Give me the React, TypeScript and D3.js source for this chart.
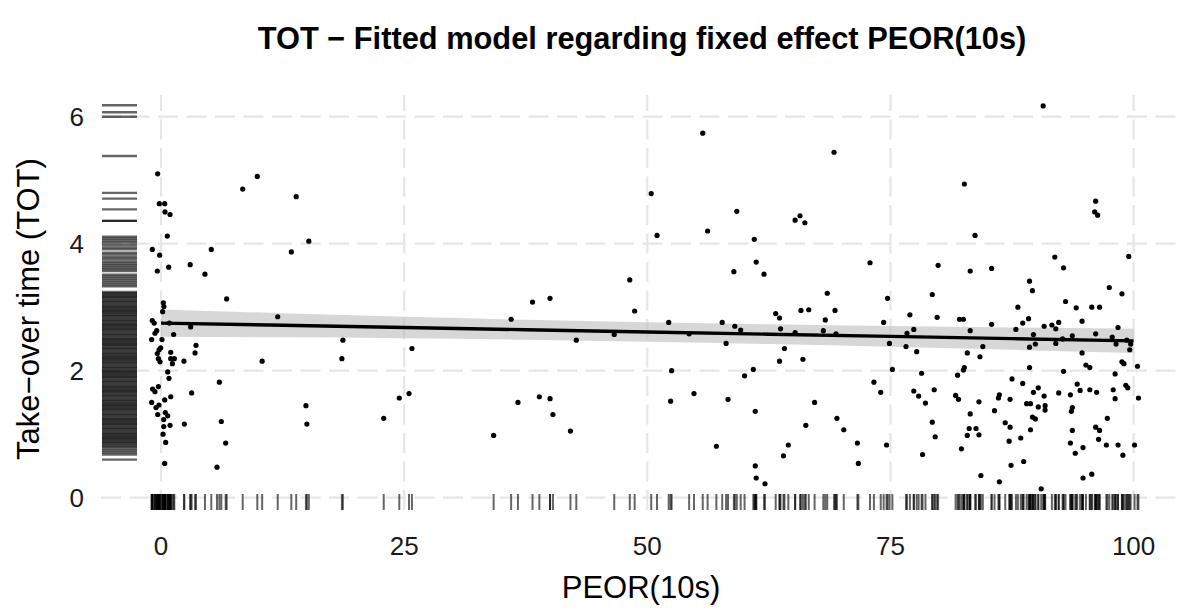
import React from "react";
import * as d3 from "d3";

// PEOR(10s) (jittered) and TOT values
const peor = [
  -0.34, 9.9, 8.4, 13.9, -0.17, 0.38, 0.41, 0.93, 0.65, -0.89, 5.17, 13.4, -0.14, -0.38, 0.79, 3.0, 4.52, 6.75, 0.24, 0.3, 0.17, -0.9, -0.7, 0.86, 3.05, 12.0, -0.44, -0.62, 1.3, -0.96, 0.1, 3.6, -0.03, -0.2, 3.5, 1.0, -0.38, -0.27, -0.1, 1.0, 1.37, 1.17, 2.36, 10.4, 0.69, 0.82, 6.0, -0.27, -0.86, -0.62, 3.15, 1.0, 0.38, -0.96, -0.21, -0.51, 0.44, -0.34, 0.69, 0.28, 0.93, 0.28, 2.4, 6.2, 0.21, 0.48, 6.65, 0.38, 5.76,
  15.2, 36.0, 38.2, 40.0, 18.7, 18.6, 25.8, 42.7, 46.6, 14.9, 15.0, 22.9, 24.5, 25.5, 34.2, 36.7, 38.9, 40.0, 40.3, 42.1,
  48.2, 55.7, 50.4, 51.0, 56.2, 59.2, 61.0, 61.2, 58.9, 62.0, 65.2, 65.7, 66.2, 69.2, 72.9, 68.5, 74.7, 79.9, 79.3,
  48.7, 52.2, 54.3, 57.7, 59.0, 59.6, 58.1, 63.2, 63.6, 63.7, 65.2, 64.1, 63.6, 52.5, 60.9, 60.0, 52.4, 54.8, 58.3, 61.1, 57.1, 64.5, 64.0, 61.1, 61.2, 62.1,
  65.8, 66.6, 68.3, 69.3, 68.1, 69.4, 66.0, 74.3, 77.0, 79.8, 76.7, 77.4, 74.9, 76.6, 77.7, 75.2, 78.2, 73.3, 74.0, 77.4, 77.9, 78.6, 79.5, 67.2, 66.3, 69.5, 70.2, 71.6, 71.7, 74.6, 79.3, 79.6, 78.3,
  90.7, 82.6, 83.7, 83.2, 85.4, 91.9, 89.3, 89.6,
  88.1, 82.1, 82.5, 85.4, 83.2, 88.6, 89.2, 87.9, 90.8, 91.6, 92.0, 92.3, 89.7, 89.9, 89.3, 84.5, 82.9, 84.2, 92.0, 82.6, 82.5, 81.9, 89.3, 87.5, 88.6, 90.2, 89.7, 90.8, 92.3, 81.7, 82.0, 86.2, 86.1, 87.3, 84.1, 89.0, 89.4, 90.2, 90.9, 90.9, 85.7, 83.2, 89.6, 89.9, 86.8, 87.3, 83.1, 83.8, 82.9, 84.1, 89.4, 87.2, 88.4, 82.3, 87.4, 88.7, 84.3, 86.2, 90.5,
  96.1, 96.0, 96.3, 92.8, 99.5, 97.5, 98.8, 93.0,
  94.1, 95.7, 96.5, 94.7, 98.4, 92.7, 93.7, 96.1, 97.8, 98.2, 99.3, 99.7, 99.6, 94.7, 98.8, 99.0, 100.4, 95.1, 95.5, 92.8, 98.1, 94.2, 99.2, 99.4, 94.5, 95.5, 96.2, 97.9, 93.5, 98.1, 100.5, 93.7, 93.6, 97.3, 96.1, 96.5, 93.7, 96.4, 93.5, 94.8, 94.0, 97.2, 98.4, 100.1, 98.9, 95.7, 94.8,
];
const tot = [
  5.10, 5.06, 4.86, 4.74, 4.63, 4.63, 4.50, 4.46, 4.12, 3.91, 3.91, 3.87, 3.82, 3.57, 3.63, 3.67, 3.52, 3.13, 3.07, 3.01, 2.93, 2.79, 2.75, 2.75, 2.69, 2.85, 2.63, 2.59, 2.57, 2.49, 2.49, 2.40, 2.36, 2.33, 2.28, 2.29, 2.27, 2.19, 2.14, 2.19, 2.19, 2.11, 2.15, 2.15, 1.98, 1.88, 1.82, 1.75, 1.71, 1.67, 1.65, 1.59, 1.54, 1.50, 1.46, 1.42, 1.34, 1.31, 1.29, 1.23, 1.14, 1.12, 1.16, 1.20, 1.00, 0.87, 0.86, 0.54, 0.48,
  4.04, 2.81, 3.08, 3.14, 2.48, 2.19, 2.35, 2.48, 2.57, 1.45, 1.16, 1.25, 1.57, 1.64, 0.98, 1.50, 1.59, 1.56, 1.31, 1.05,
  3.43, 5.74, 4.79, 4.13, 4.20, 4.51, 4.07, 3.71, 3.56, 3.52, 4.37, 4.44, 4.33, 5.44, 3.70, 3.22, 3.14, 3.66, 3.20,
  2.94, 2.76, 2.58, 2.76, 2.70, 2.64, 2.43, 2.90, 2.83, 2.66, 2.60, 2.35, 2.15, 2.00, 2.02, 1.92, 1.52, 1.64, 1.55, 1.36, 0.81, 0.83, 0.66, 0.50, 0.31, 0.22,
  2.95, 2.96, 2.80, 2.95, 2.63, 2.58, 2.18, 2.76, 2.88, 2.84, 2.59, 2.65, 2.43, 2.38, 2.30, 2.02, 1.96, 1.82, 1.66, 1.68, 1.60, 1.49, 1.70, 1.50, 1.14, 1.25, 1.07, 0.86, 0.54, 0.83, 1.19, 0.96, 0.68,
  6.17, 4.94, 4.13, 3.57, 3.61, 3.79, 3.41, 3.26,
  3.00, 2.81, 2.81, 2.73, 2.63, 2.75, 2.82, 2.65, 2.70, 2.72, 2.66, 2.76, 2.57, 2.42, 2.37, 2.38, 2.28, 2.22, 2.43, 2.05, 2.01, 1.93, 2.05, 1.87, 1.80, 1.73, 1.66, 1.60, 1.65, 1.61, 1.55, 1.62, 1.57, 1.55, 1.51, 1.48, 1.48, 1.43, 1.45, 1.38, 1.37, 1.32, 1.27, 1.24, 1.18, 1.11, 1.09, 1.09, 0.98, 0.99, 1.07, 0.89, 0.94, 0.77, 0.51, 0.57, 0.35, 0.25, 0.14,
  4.67, 4.50, 4.45, 3.62, 3.80, 3.31, 3.21, 3.09,
  2.99, 3.00, 3.00, 2.78, 2.68, 2.50, 2.55, 2.58, 2.53, 2.42, 2.48, 2.42, 2.33, 2.28, 2.14, 2.11, 2.07, 2.09, 2.05, 1.99, 1.95, 1.79, 1.77, 1.73, 1.69, 1.70, 1.66, 1.70, 1.62, 1.56, 1.57, 1.42, 1.36, 1.25, 1.11, 1.06, 1.06, 0.92, 0.86, 0.79, 0.70, 0.83, 0.83, 0.83, 0.67, 0.37, 0.31,
];

// TOT values marked on the left rug (raw, not jittered)
const totRug = [
  6.18, 6.07, 6.00, 5.38, 4.80, 4.71, 4.54, 4.36, 4.36,
  4.11, 4.08, 4.05, 4.02, 3.98, 3.94, 3.91, 3.86, 3.83, 3.79, 3.76, 3.72, 3.69, 3.66, 3.63, 3.60, 3.57, 3.51, 3.48, 3.45, 3.42, 3.39, 3.36, 3.33,
  3.24, 3.22, 3.20, 3.18, 3.16, 3.14, 3.12, 3.10, 3.08, 3.06, 3.04, 3.02, 3.00, 2.98, 2.96, 2.94, 2.92, 2.90, 2.88, 2.86,
  2.84, 2.82, 2.80, 2.78, 2.76, 2.74, 2.72, 2.70, 2.68, 2.66, 2.64, 2.62, 2.60, 2.58, 2.56, 2.54, 2.52, 2.50, 2.48, 2.46,
  2.44, 2.42, 2.40, 2.38, 2.36, 2.34, 2.32, 2.30, 2.28, 2.26, 2.24, 2.22, 2.20, 2.18, 2.16, 2.14, 2.12, 2.10, 2.08, 2.06,
  2.04, 2.02, 2.00, 1.98, 1.96, 1.94, 1.92, 1.90, 1.88, 1.86, 1.84, 1.82, 1.80, 1.78, 1.76, 1.74, 1.72, 1.70, 1.68, 1.66,
  1.64, 1.62, 1.60, 1.58, 1.56, 1.54, 1.52, 1.50, 1.48, 1.46, 1.44, 1.42, 1.40, 1.38, 1.36, 1.34, 1.32, 1.30, 1.28, 1.26,
  1.24, 1.22, 1.20, 1.18, 1.16, 1.14, 1.12, 1.10, 1.08, 1.06, 1.04, 1.02, 1.00, 0.98, 0.96, 0.94, 0.92, 0.90, 0.88, 0.86,
  0.84, 0.82, 0.80, 0.77, 0.74, 0.71, 0.68, 0.60,
];

// fitted model and 95% confidence band
const fitX = [0, 12.5, 25, 37.5, 50, 62.5, 75, 87.5, 100];
const fitY = [2.75, 2.715, 2.68, 2.645, 2.61, 2.575, 2.54, 2.505, 2.47];
const fitHi = [2.965, 2.905, 2.848, 2.802, 2.763, 2.73, 2.703, 2.681, 2.662];
const fitLo = [2.535, 2.525, 2.512, 2.488, 2.457, 2.42, 2.377, 2.329, 2.278];

const xTicks = [0, 25, 50, 75, 100];
const yTicks = [0, 2, 4, 6];

const W = 1189;
const H = 610;
const panel = { left: 101, right: 1180, top: 95, bottom: 510 };
const FONT = "'Liberation Sans', Arial, Helvetica, sans-serif";

export default function App() {
  const x = d3.scaleLinear().domain([0, 100]).range([161, 1133.6]);
  const y = d3.scaleLinear().domain([0, 6]).range([497.7, 116.7]);

  const fit = fitX.map((v, i) => ({ x: v, y: fitY[i], lo: fitLo[i], hi: fitHi[i] }));
  const area = d3
    .area<{ x: number; lo: number; hi: number }>()
    .x((d) => x(d.x))
    .y0((d) => y(d.lo))
    .y1((d) => y(d.hi))
    .curve(d3.curveMonotoneX);
  const line = d3
    .line<{ x: number; y: number }>()
    .x((d) => x(d.x))
    .y((d) => y(d.y));

  const rugLenX = 35;
  const rugLenY = 16;

  const grid = "#e6e6e6";
  return (
    <svg
      width={W}
      height={H}
      style={{ position: "absolute", left: 0, top: 0, background: "#fff" }}
      fontFamily={FONT}
    >
      <rect x={0} y={0} width={W} height={H} fill="#fff" />
      {/* grid */}
      {yTicks.map((t) => (
        <line
          key={"gy" + t}
          x1={panel.left}
          x2={panel.right}
          y1={y(t)}
          y2={y(t)}
          stroke={grid}
          strokeWidth={2.2}
          strokeDasharray="20 8.5"
        />
      ))}
      {xTicks.map((t) => (
        <line
          key={"gx" + t}
          x1={x(t)}
          x2={x(t)}
          y1={panel.bottom}
          y2={panel.top}
          stroke={grid}
          strokeWidth={2.2}
          strokeDasharray="20 8.5"
        />
      ))}
      {/* rugs */}
      {totRug.map((v, i) => (
        <line
          key={"ry" + i}
          x1={panel.left + 1}
          x2={panel.left + 1 + rugLenX}
          y1={y(v)}
          y2={y(v)}
          stroke="#000"
          strokeOpacity={0.6}
          strokeWidth={2.4}
        />
      ))}
      {peor.map((v, i) => (
        <line
          key={"rx" + i}
          x1={x(v)}
          x2={x(v)}
          y1={panel.bottom}
          y2={panel.bottom - rugLenY}
          stroke="#000"
          strokeOpacity={0.6}
          strokeWidth={2}
        />
      ))}
      {/* model */}
      <path d={area(fit) || ""} fill="#bdbdbd" fillOpacity={0.6} />
      <path d={line(fit) || ""} fill="none" stroke="#000" strokeWidth={3.4} />
      {/* points */}
      {peor.map((v, i) => (
        <circle key={"p" + i} cx={x(v)} cy={y(tot[i])} r={2.6} fill="#000" />
      ))}
      {/* tick labels */}
      {xTicks.map((t) => (
        <text key={"tx" + t} x={x(t)} y={555} textAnchor="middle" fontSize={26} fill="#1a1a1a">
          {t}
        </text>
      ))}
      {yTicks.map((t) => (
        <text key={"ty" + t} x={84} y={y(t) + 9.5} textAnchor="end" fontSize={26} fill="#1a1a1a">
          {t}
        </text>
      ))}
      {/* titles */}
      <text x={642} y={49} textAnchor="middle" fontSize={30.8} fontWeight="bold" fill="#000">
        TOT − Fitted model regarding fixed effect PEOR(10s)
      </text>
      <text x={641} y={598} textAnchor="middle" fontSize={31} fill="#000">
        PEOR(10s)
      </text>
      <text
        transform={`translate(39, 309) rotate(-90)`}
        textAnchor="middle"
        fontSize={31}
        fill="#000"
      >
        Take−over time (TOT)
      </text>
    </svg>
  );
}
